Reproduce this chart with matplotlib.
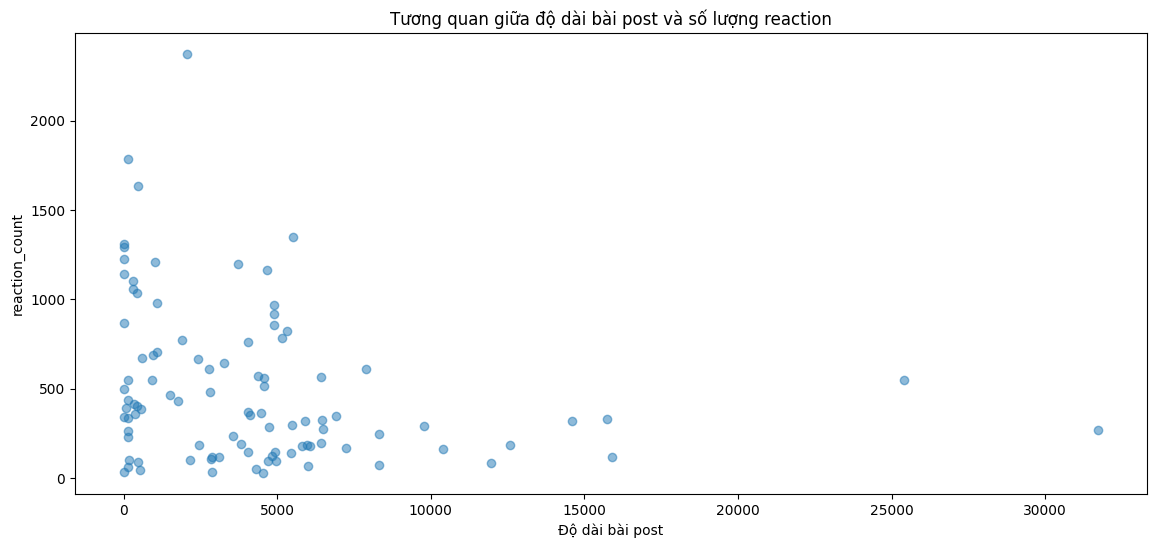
import matplotlib
matplotlib.use("Agg")
import matplotlib.pyplot as plt

post_length = [2061,161,483,0,20,0,1030,0,322,322,451,1095,0,1900,612,966,1095,2415,2769,3284,
               161,934,0,1513,1771,2801,161,64,354,451,580,386,0,129,129,161,4057,4122,4476,4733,
               3574,3832,4057,2447,2157,2834,2866,3123,2866,193,129,20,483,547,4315,4540,4701,4830,4927,4959,
               5442,5474,5893,5796,5957,6054,5989,6440,6472,6504,6440,6923,7245,5506,3735,4669,4894,4894,4894,5313,
               5152,4057,4379,4572,4572,7889,8308,8308,9789,10401,11946,12590,14587,15746,15907,25406,31717]
reaction_count = [2374,1788,1637,1313,1291,1229,1207,1140,1101,1056,1034,978,866,771,670,687,704,665,609,642,
                  548,548,497,464,430,480,436,391,413,402,386,358,341,335,263,229,369,352,363,285,
                  235,190,145,184,101,106,117,117,34,101,61,34,89,45,50,28,95,123,145,95,
                  140,296,318,179,184,179,67,564,324,274,196,346,168,1352,1196,1162,967,916,855,821,
                  782,760,570,559,514,609,246,73,291,162,84,184,318,330,117,548,268]

fig, ax = plt.subplots(figsize=(11.69, 5.49), dpi=100)
fig.subplots_adjust(left=0.064, right=0.981, top=0.94, bottom=0.1)
ax.scatter(post_length, reaction_count, alpha=0.5)
ax.set_title("Tương quan giữa độ dài bài post và số lượng reaction")
ax.set_xlabel("Độ dài bài post")
ax.set_ylabel("reaction_count")
fig.savefig("out.png")
